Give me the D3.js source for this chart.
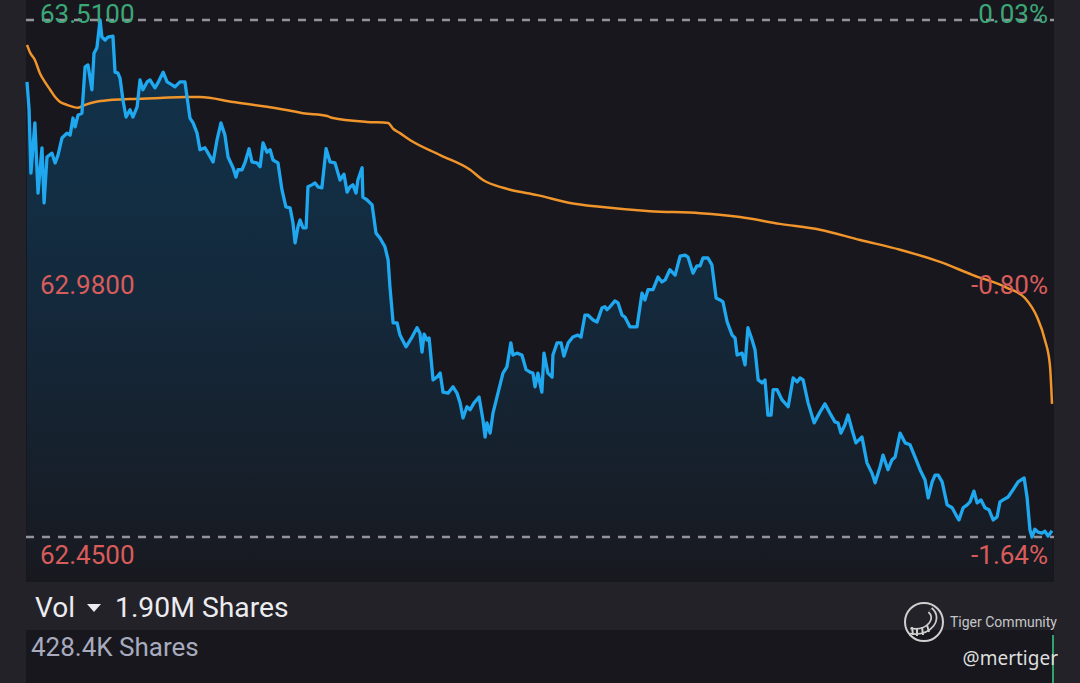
<!DOCTYPE html>
<html><head><meta charset="utf-8">
<script src="https://cdn.jsdelivr.net/npm/d3@7/dist/d3.min.js"></script>
<style>html,body{margin:0;padding:0;background:#232228;overflow:hidden}</style>
</head><body>
<svg id="c" width="1080" height="683"></svg>
<script>
// ---- data (minutes since open, price) ----
const minutes = [0,0.8,1.5,3.0,4.2,5.7,6.5,7.6,9.5,10.7,11.8,13.3,15.2,16.4,17.5,18.3,19.4,20.9,22.1,23.2,24.7,25.5,26.6,27.8,28.5,29.7,30.8,32.7,33.5,34.6,35.4,36.5,37.7,39.2,40.3,41.9,43.0,44.1,45.7,46.8,48.7,49.8,51.8,53.3,55.2,56.3,58.2,60.1,60.9,62.0,63.2,64.7,65.8,67.7,68.9,70.8,72.3,73.8,75.3,76.5,78.4,79.5,80.3,81.8,82.9,84.5,85.6,87.5,88.7,89.8,91.3,92.5,93.6,95.5,97.0,98.5,100.1,101.2,102.0,103.1,103.9,105.0,106.2,106.9,108.4,109.6,110.7,112.2,113.8,115.3,117.2,119.1,120.6,121.8,122.9,124.0,125.2,125.9,127.5,127.8,129.4,131.3,132.8,134.3,136.2,137.4,138.1,139.3,140.8,141.9,144.2,146.5,148.4,149.5,150.3,151.1,152.2,153.0,154.5,156.0,157.2,158.3,160.2,162.1,163.6,164.8,165.9,167.4,168.6,170.1,172.0,173.5,174.3,175.0,176.2,177.3,179.2,181.1,182.6,184.1,184.9,186.4,188.3,189.9,191.4,192.5,193.3,194.4,195.9,196.7,198.2,199.8,200.1,201.7,203.2,204.3,205.9,207.7,209.6,210.8,212.3,213.4,215.4,216.9,218.8,219.9,220.7,221.8,223.7,224.9,226.4,227.5,229.4,232.1,234.0,235.1,236.3,238.2,240.1,241.6,242.8,244.6,246.6,248.5,250.4,251.5,253.4,254.9,256.1,257.2,259.1,260.6,262.2,263.7,264.8,266.4,268.3,269.4,270.2,272.1,273.2,274.3,275.9,277.0,278.2,279.7,280.8,281.9,283.1,283.9,285.4,287.3,289.6,291.5,293.0,294.1,295.3,297.2,299.5,301.7,303.6,305.5,307.4,308.6,309.7,311.2,312.4,313.9,315.4,317.7,319.6,321.5,322.7,324.6,325.7,327.6,329.1,330.3,332.2,334.1,336.0,337.9,339.8,341.7,342.9,344.4,345.5,346.7,348.2,350.1,352.0,353.9,354.6,356.2,357.7,358.8,360.3,361.5,363.0,364.5,366.0,367.6,369.1,370.2,371.4,373.3,375.2,377.1,379.4,380.5,381.6,382.4,383.5,384.7,386.2,387.3,388.5,390.0];
const prices = [63.383,63.326,63.196,63.299,63.155,63.248,63.135,63.229,63.237,63.217,63.233,63.268,63.278,63.274,63.309,63.291,63.315,63.319,63.414,63.418,63.367,63.442,63.453,63.510,63.475,63.469,63.475,63.477,63.403,63.401,63.391,63.346,63.311,63.326,63.311,63.332,63.387,63.367,63.383,63.387,63.371,63.381,63.403,63.383,63.377,63.373,63.383,63.383,63.352,63.309,63.299,63.278,63.244,63.248,63.237,63.219,63.264,63.299,63.274,63.229,63.207,63.188,63.203,63.203,63.217,63.246,63.219,63.217,63.209,63.258,63.239,63.244,63.223,63.217,63.162,63.127,63.125,63.094,63.053,63.086,63.100,63.084,63.084,63.168,63.172,63.176,63.168,63.166,63.246,63.219,63.217,63.182,63.194,63.157,63.168,63.172,63.155,63.182,63.207,63.147,63.141,63.131,63.073,63.063,63.045,63.018,62.963,62.889,62.889,62.864,62.840,62.860,62.879,62.868,62.829,62.866,62.854,62.858,62.772,62.778,62.786,62.747,62.745,62.758,62.745,62.725,62.694,62.717,62.711,62.725,62.737,62.690,62.655,62.684,62.663,62.704,62.745,62.786,62.799,62.848,62.823,62.827,62.823,62.793,62.788,62.786,62.758,62.786,62.747,62.827,62.786,62.778,62.823,62.848,62.848,62.821,62.848,62.860,62.864,62.860,62.905,62.905,62.895,62.891,62.920,62.922,62.916,62.922,62.934,62.930,62.905,62.901,62.881,62.881,62.950,62.936,62.957,62.957,62.983,62.973,62.977,62.998,62.987,63.026,63.028,63.024,62.991,63.006,63.006,63.022,63.022,63.008,62.940,62.936,62.932,62.891,62.864,62.858,62.823,62.827,62.803,62.879,62.854,62.834,62.772,62.766,62.772,62.700,62.700,62.752,62.752,62.731,62.717,62.776,62.768,62.776,62.772,62.725,62.684,62.706,62.723,62.704,62.686,62.684,62.663,62.680,62.700,62.670,62.643,62.655,62.602,62.581,62.561,62.594,62.618,62.588,62.608,62.614,62.663,62.643,62.639,62.614,62.588,62.567,62.530,62.563,62.577,62.577,62.563,62.516,62.510,62.491,62.485,62.510,62.516,62.522,62.544,62.520,62.526,62.510,62.506,62.485,62.491,62.522,62.526,62.532,62.547,62.563,62.571,62.532,62.465,62.450,62.466,62.460,62.458,62.462,62.452,62.463];
const avgMinutes = [0,1.1,3.0,4.9,6.8,8.8,10.7,12.6,15.2,19.4,22.1,25.9,31.6,39.2,50.6,60.1,65.8,78.4,91.3,101.2,105.0,114.2,116.4,129.4,137.4,139.3,141.9,145.7,157.2,168.6,173.5,181.1,183.8,194.1,206.6,218.0,237.1,256.1,271.3,286.5,301.7,317.0,332.2,347.4,359.9,372.9,379.7,384.3,387.3,389.2,390.0];
const avgPrices = [63.459,63.444,63.428,63.401,63.383,63.367,63.352,63.342,63.336,63.330,63.336,63.342,63.346,63.348,63.350,63.352,63.352,63.342,63.332,63.323,63.319,63.313,63.309,63.301,63.299,63.287,63.278,63.264,63.233,63.203,63.182,63.166,63.162,63.151,63.135,63.127,63.118,63.114,63.106,63.092,63.080,63.059,63.039,63.014,62.987,62.961,62.940,62.901,62.854,62.803,62.723];
const priceTicks = [63.51, 62.98, 62.45];
const priceLabels = ["63.5100", "62.9800", "62.4500"];
const pctLabels = ["0.03%", "-0.80%", "-1.64%"];
const volTitle = "1.90M Shares";
const lastVolLabel = "428.4K Shares";
const volMinutes = [390];
const volValues = [428400];

// ---- layout ----
const svg = d3.select("#c");
const W = 1080, H = 683;
const plot = {l: 26, r: 1054, t: 0, b: 582};
const x = d3.scaleLinear().domain([0, 390]).range([27, 1052]);
const y = d3.scaleLinear().domain([62.45, 63.51]).range([537, 20]);

svg.append("rect").attr("width", W).attr("height", H).attr("fill", "#232228");
svg.append("rect").attr("x", plot.l).attr("y", plot.t).attr("width", plot.r - plot.l).attr("height", plot.b - plot.t).attr("fill", "#18171d");
svg.append("rect").attr("x", plot.l).attr("y", 630).attr("width", plot.r - plot.l).attr("height", H - 630).attr("fill", "#18171d");

const defs = svg.append("defs");
const grad = defs.append("linearGradient").attr("id", "ag").attr("gradientUnits", "userSpaceOnUse")
  .attr("x1", 0).attr("y1", 0).attr("x2", 0).attr("y2", plot.b);
grad.append("stop").attr("offset", 0).attr("stop-color", "#10354f");
grad.append("stop").attr("offset", 0.55).attr("stop-color", "#14283a");
grad.append("stop").attr("offset", 1).attr("stop-color", "#18191f");

const pts = minutes.map((m, i) => [m, prices[i]]);
const area = d3.area().x(d => x(d[0])).y0(plot.b).y1(d => y(d[1]));
const line = d3.line().x(d => x(d[0])).y(d => y(d[1]));

svg.append("path").datum(pts).attr("d", area).attr("fill", "url(#ag)");

// dashed reference lines
[priceTicks[0], priceTicks[2]].forEach(p => {
  svg.append("line").attr("x1", plot.l).attr("x2", plot.r).attr("y1", y(p)).attr("y2", y(p))
    .attr("stroke", "#94939c").attr("stroke-width", 2.5).attr("stroke-dasharray", "8,8");
});

// avg line
const avgPts = avgMinutes.map((m, i) => [m, avgPrices[i]]);
svg.append("path").datum(avgPts).attr("d", d3.line().x(d => x(d[0])).y(d => y(d[1])).curve(d3.curveMonotoneX))
  .attr("fill", "none").attr("stroke", "#f0952b").attr("stroke-width", 2.5);

// price line
svg.append("path").datum(pts).attr("d", line)
  .attr("fill", "none").attr("stroke", "#1fa8f0").attr("stroke-width", 3.3).attr("stroke-linejoin", "round");

// labels
const labelDy = [3, 15, 27];
const colors = ["#3aa777", "#d95c5c", "#d95c5c"];
priceTicks.forEach((p, i) => {
  svg.append("text").attr("x", 40).attr("y", y(p) + labelDy[i]).text(priceLabels[i])
    .attr("font-family", "Roboto").attr("font-size", 26).attr("fill", colors[i]);
  svg.append("text").attr("x", 1048).attr("y", y(p) + labelDy[i]).attr("text-anchor", "end").text(pctLabels[i])
    .attr("font-family", "Roboto").attr("font-size", 26).attr("fill", colors[i]);
});

// vol header
svg.append("text").attr("x", 35).attr("y", 617).text("Vol")
  .attr("font-family", "Roboto").attr("font-size", 28).attr("fill", "#ececf0");
svg.append("path").attr("d", "M87,604 L101,604 L94,612 Z").attr("fill", "#ececf0");
svg.append("text").attr("x", 115).attr("y", 617).text(volTitle)
  .attr("font-family", "Roboto").attr("font-size", 28.3).attr("fill", "#ececf0");
svg.append("text").attr("x", 31).attr("y", 656).text(lastVolLabel)
  .attr("font-family", "Roboto").attr("font-size", 26).attr("fill", "#a7abbd");

// volume bar(s)
const vy = d3.scaleLinear().domain([0, d3.max(volValues)]).range([H, 635]);
svg.selectAll(".vb").data(volMinutes).enter().append("rect")
  .attr("x", d => x(d)).attr("width", 2)
  .attr("y", (d, i) => vy(volValues[i])).attr("height", (d, i) => H - vy(volValues[i]))
  .attr("fill", "#2fa36b");

// watermark
const lg = svg.append("g").attr("transform", "translate(924,622)").attr("fill", "none").attr("stroke", "#cfcfcf");
lg.append("circle").attr("r", 19).attr("stroke-width", 2);
lg.append("path").attr("d", "M6,-12 C16,-4 6,12 -14,9").attr("stroke-width", 7).attr("stroke", "#cfcfcf");
lg.append("path").attr("d", "M6,-12 C16,-4 6,12 -14,9").attr("stroke-width", 3.5).attr("stroke", "#1f1e24");
[[-12,5,-11,13],[-7,6,-7,14],[-2,5,-1,13],[3,3,5,10]].forEach(s => {
  lg.append("line").attr("x1", s[0]).attr("y1", s[1]).attr("x2", s[2]).attr("y2", s[3]).attr("stroke-width", 2);
});
svg.append("text").attr("x", 950).attr("y", 627).text("Tiger Community")
  .attr("font-family", "Roboto").attr("font-size", 14).attr("fill", "#c6c6c8");
svg.append("text").attr("x", 1058).attr("y", 665).attr("text-anchor", "end").text("@mertiger")
  .attr("font-family", "Noto Sans").attr("font-size", 19).attr("fill", "#dedede");
</script>
</body></html>
